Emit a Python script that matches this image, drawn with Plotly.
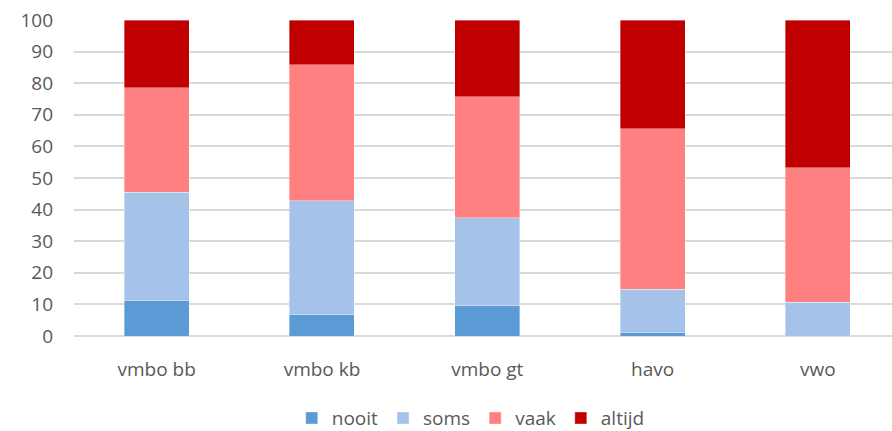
import plotly.graph_objects as go

categories = ["vmbo bb", "vmbo kb", "vmbo gt", "havo", "vwo"]
nooit = [11.1, 6.7, 9.5, 1.1, 0.0]
soms = [34.4, 36.1, 28.0, 13.7, 10.7]
vaak = [33.0, 43.0, 38.2, 50.8, 42.6]
altijd = [21.5, 14.2, 24.3, 34.4, 46.7]
series_names = ["nooit", "soms", "vaak", "altijd"]
colors = ["#5B9BD5", "#A5C3E8", "#FF8080", "#C00000"]

fig = go.Figure()
for name, vals, col in zip(series_names, [nooit, soms, vaak, altijd], colors):
    fig.add_trace(go.Bar(
        x=categories, y=vals, name=name,
        marker=dict(color=col, line=dict(color="rgba(255,255,255,0.6)", width=0.6)),
        width=0.393,
    ))

font_family = "'Open Sans', sans-serif"
fs = 19
fig.update_layout(
    barmode="stack",
    width=892, height=431,
    margin=dict(l=74, r=0, t=20, b=95, autoexpand=False),
    paper_bgcolor="white", plot_bgcolor="white",
    font=dict(family=font_family, size=fs, color="#595959"),
    xaxis=dict(range=[-0.5, 4.448], showgrid=False, showline=False, ticks="",
               ticklabelstandoff=20,
               tickfont=dict(size=fs, color="#595959")),
    yaxis=dict(range=[0, 100], dtick=10, tick0=0, showgrid=True, gridcolor="#D9D9D9",
               gridwidth=1.5, zeroline=True, zerolinecolor="#D9D9D9", zerolinewidth=1.5,
               showline=False, ticks="", ticklabelstandoff=20, ticklabeloverflow="allow",
               tickfont=dict(size=fs, color="#595959")),
    legend=dict(orientation="h", x=0.485, xanchor="center", y=-0.26, yanchor="middle",
                font=dict(size=fs, color="#595959"), traceorder="normal",
                itemwidth=30, tracegroupgap=0),
    showlegend=True,
)

fig.write_html("out.html",
               config={"displayModeBar": False},
               post_script="document.body.style.margin='0';document.body.style.overflow='hidden';")
